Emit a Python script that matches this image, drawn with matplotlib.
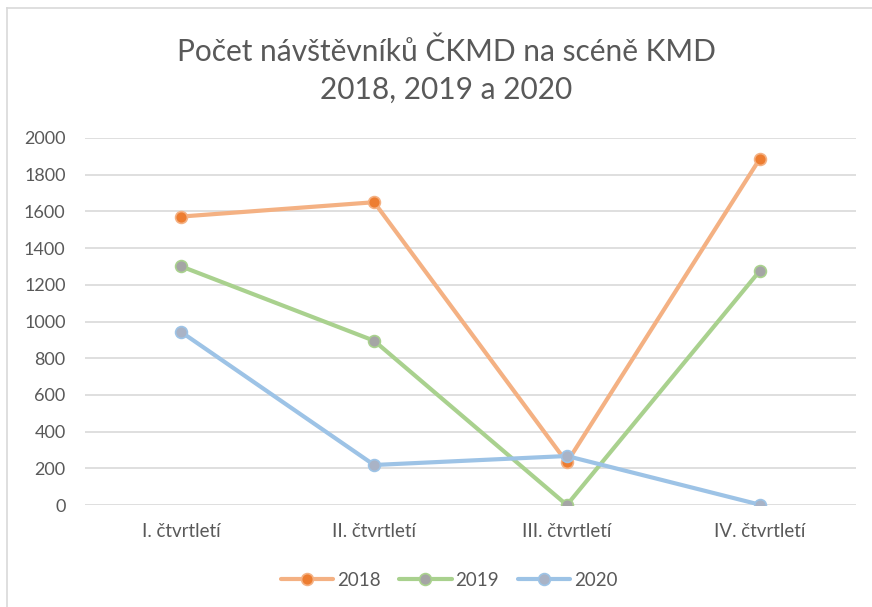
import numpy as np
import matplotlib.pyplot as plt
from matplotlib.lines import Line2D

plt.rcParams['font.family'] = ['Lato', 'DejaVu Sans']

# data
kategorie = ['I. čtvrtletí', 'II. čtvrtletí', 'III. čtvrtletí', 'IV. čtvrtletí']
roky = ['2018', '2019', '2020']
hodnoty_2018 = [1572, 1650, 232, 1885]
hodnoty_2019 = [1300, 895, 0, 1275]
hodnoty_2020 = [942, 218, 267, 2]

barvy_cara = ['#F4B183', '#A9D18E', '#9DC3E6']
barvy_bod = ['#ED7D31', '#A5A5A5', '#A9B3C6']
seda = '#595959'

fig = plt.figure(figsize=(8.72, 6.07), dpi=100)
ax = fig.add_axes([85/872, 1-505/607, (856-85)/872, 367/607])

x = np.arange(len(kategorie))
for rok, data, cc, cb in zip(roky, [hodnoty_2018, hodnoty_2019, hodnoty_2020], barvy_cara, barvy_bod):
    ax.plot(x, data, color=cc, lw=3.0, marker='o', ms=8.5, mfc=cb, mec=cc, mew=1.2,
            label=rok, solid_capstyle='round', zorder=3)

ax.set_xlim(-0.5, 3.5)
ax.set_ylim(0, 2000)
ax.set_yticks(np.arange(0, 2001, 200))
ax.set_xticks(x)
ax.set_xticklabels(kategorie)
ax.grid(axis='y', color='#D9D9D9', lw=1.2)
ax.set_axisbelow(True)
for s in ax.spines.values():
    s.set_visible(False)
ax.tick_params(axis='y', length=0, pad=14, labelsize=13, labelcolor=seda)
ax.tick_params(axis='x', length=0, pad=13, labelsize=13.5, labelcolor=seda)

fig.text(0.512, 1-52/607, 'Počet návštěvníků ČKMD na scéně KMD', ha='center', va='center',
         fontsize=21.5, color=seda)
fig.text(0.512, 1-90/607, '2018, 2019 a 2020', ha='center', va='center',
         fontsize=21.5, color=seda)

leg = fig.legend(loc='center', bbox_to_anchor=(0.515, 1-580/607), ncol=3, frameon=False,
                 fontsize=13.5, handlelength=2.8, columnspacing=1.0, handletextpad=0.2)
for t in leg.get_texts():
    t.set_color(seda)

# okraj grafu
fig.add_artist(Line2D([7/872, 7/872], [0, 1-8/607], color='#D9D9D9', lw=1.2))
fig.add_artist(Line2D([7/872, 1], [1-8/607, 1-8/607], color='#D9D9D9', lw=1.2))

fig.savefig('out.png', dpi=100)
